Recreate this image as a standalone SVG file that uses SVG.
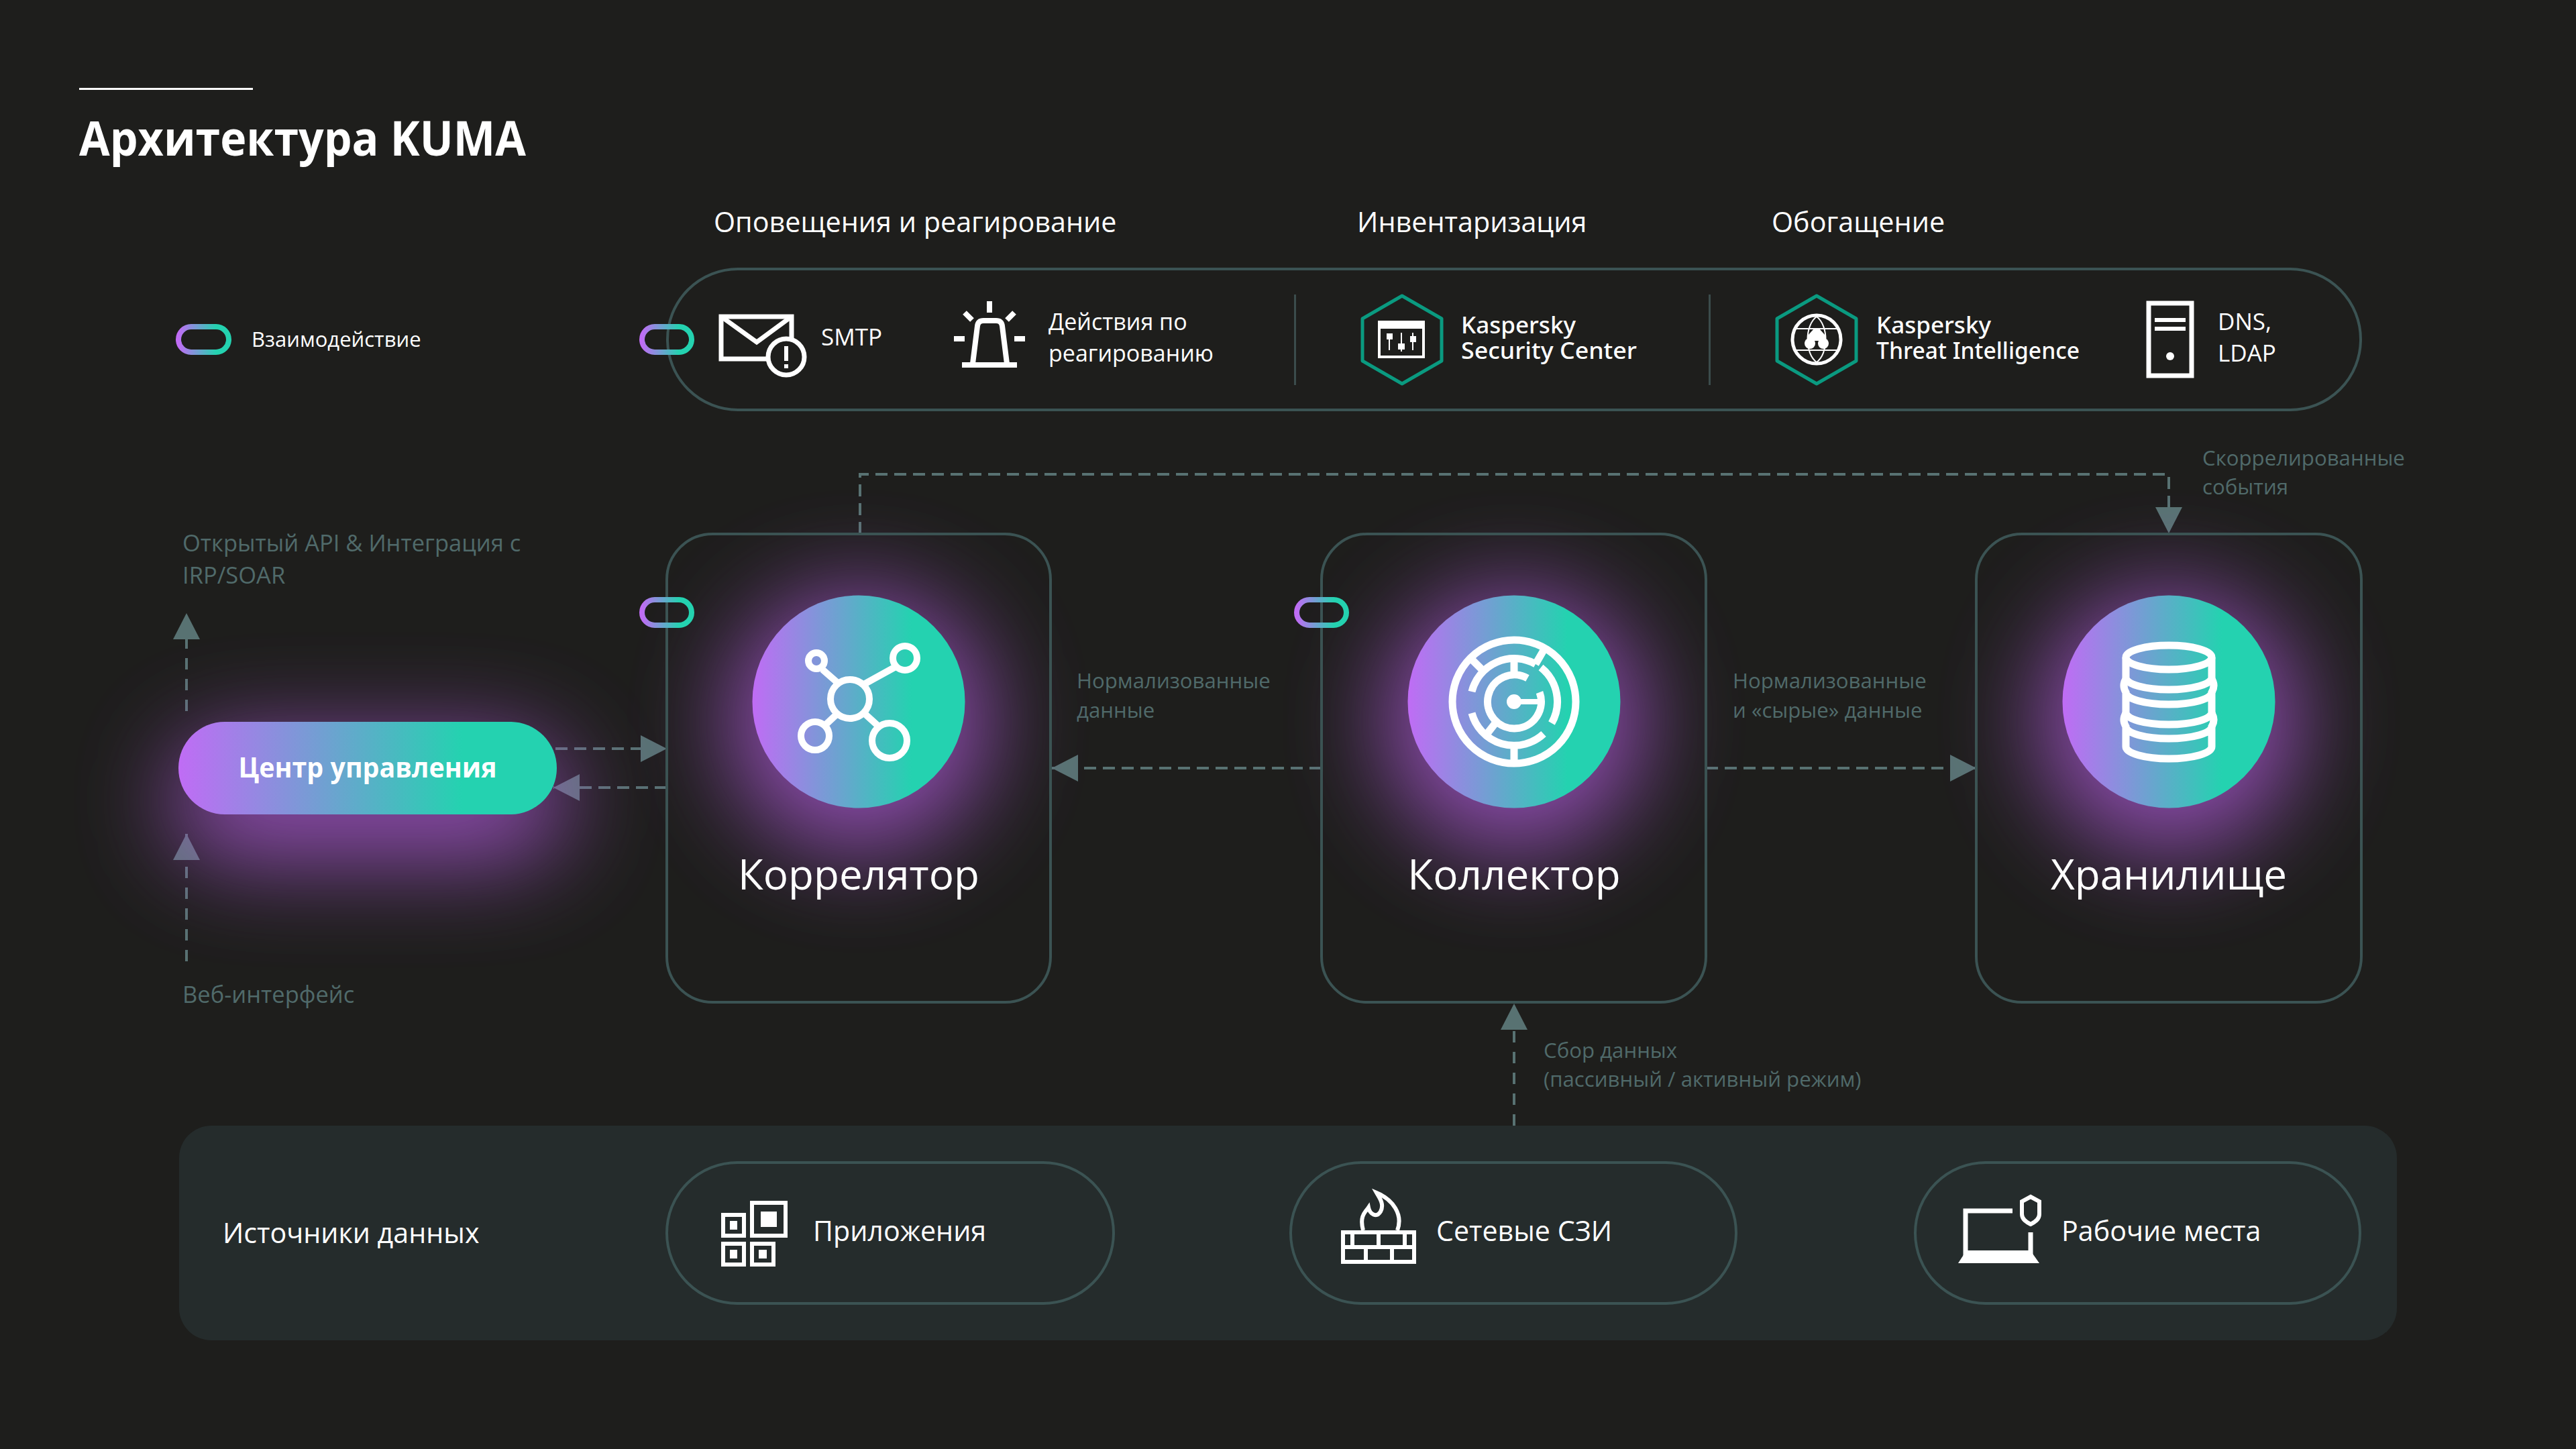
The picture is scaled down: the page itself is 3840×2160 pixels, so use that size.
<svg xmlns="http://www.w3.org/2000/svg" width="3840" height="2160" viewBox="0 0 3840 2160">
<defs>
<linearGradient id="g" x1="0" y1="0" x2="1" y2="0"><stop offset="0" stop-color="#c06cf5"/><stop offset="0.75" stop-color="#24d2b0"/><stop offset="1" stop-color="#24d2b0"/></linearGradient>
<filter id="glow" x="-100%" y="-200%" width="300%" height="500%"><feGaussianBlur stdDeviation="72"/></filter>
<marker id="arr" markerUnits="userSpaceOnUse" markerWidth="40" markerHeight="40" refX="39" refY="20" orient="auto"><path d="M0 0L39 20L0 40Z" fill="#587272"/></marker>
</defs>
<style>
text{font-family:"Open Sans","Noto Sans",sans-serif;fill:#fff}
.box{fill:none;stroke:#3b5353;stroke-width:4}
.dash{fill:none;stroke:#587272;stroke-width:4;stroke-dasharray:18 10}
.vd{fill:none;stroke:#587272;stroke-width:4;stroke-dasharray:17 14}
.lbl{font-size:31.200px;fill:#506a6a}
.lbl2{font-size:34.500px;fill:#506a6a}
.t36{font-size:35px}
.t34{font-size:34px}
.ks{font-size:35px;font-family:"Noto Sans",sans-serif;font-weight:500}
.grp{font-size:41.300px}
.nt{font-size:62px;text-anchor:middle}
.src{font-size:41.200px}
.ic{fill:none;stroke:#fff;stroke-width:7}
.chip{fill:none;stroke:url(#g);stroke-width:8}
.glowp{fill:#b45ce0;opacity:.74;filter:url(#glow)}
</style>
<rect width="3840" height="2160" fill="#1e1e1c"/>
<rect x="118" y="131" width="259" height="3" fill="#fff"/>
<text x="118" y="232" font-size="71" font-weight="700" textLength="666" lengthAdjust="spacingAndGlyphs">Архитектура KUMA</text>

<g id="legend"><rect class="chip" x="266" y="487" width="75" height="38" rx="19"/><text x="375" y="517" font-size="31">Взаимодействие</text></g>

<g id="top-panel">
<rect class="box" x="995" y="401" width="2524" height="210" rx="105"/>
<rect x="1929" y="439" width="3" height="135" fill="#3b4c4c"/>
<rect x="2547" y="439" width="3" height="135" fill="#3b4c4c"/>
<rect class="chip" x="957" y="487" width="74" height="38" rx="19"/>
<text class="grp" x="1064" y="346">Оповещения и реагирование</text>
<text class="grp" x="2023" y="346">Инвентаризация</text>
<text class="grp" x="2641" y="346">Обогащение</text>
</g>
<g id="smtp"><rect class="ic" x="1075" y="472" width="105" height="63"/><path class="ic" d="M1078 474L1128 510L1177 474"/><circle cx="1172" cy="532" r="27" fill="#1e1e1c" stroke="#fff" stroke-width="7"/><path d="M1172 516V538M1172 543V549" stroke="#fff" stroke-width="6" fill="none"/><text class="t36" x="1224" y="515">SMTP</text></g>
<g id="response"><path d="M1434 544H1516M1450 542L1457 486Q1458 478 1466 478H1485Q1493 478 1494 486L1501 542" fill="none" stroke="#fff" stroke-width="8"/><path d="M1475 449V466M1438 466L1449 477M1512 466L1501 477M1422 505H1438M1512 505H1528" stroke="#fff" stroke-width="8" fill="none"/><text class="t34" x="1563" y="492">Действия по</text><text class="t34" x="1563" y="539">реагированию</text></g>
<g id="ksc"><path d="M2090 441L2149 475V538L2090 572L2031 538V475Z" fill="none" stroke="#0a9a80" stroke-width="5" stroke-linejoin="round"/><rect x="2056" y="480" width="66" height="52" fill="none" stroke="#fff" stroke-width="4"/><rect x="2054" y="478" width="70" height="12" fill="#fff"/><path d="M2071 498V522M2089 496V524M2106 496V522" stroke="#fff" stroke-width="2"/><rect x="2067" y="497" width="9" height="9" fill="#fff"/><rect x="2084" y="512" width="10" height="9" fill="#fff"/><rect x="2102" y="501" width="9" height="9" fill="#fff"/><text class="ks"><tspan x="2178" y="497" textLength="171" lengthAdjust="spacingAndGlyphs">Kaspersky</tspan><tspan x="2178" y="535" textLength="262" lengthAdjust="spacingAndGlyphs">Security Center</tspan></text></g>
<g id="kti"><path d="M2708 441L2767 475V538L2708 572L2649 538V475Z" fill="none" stroke="#0a9a80" stroke-width="5" stroke-linejoin="round"/><circle cx="2708" cy="506" r="36" fill="none" stroke="#fff" stroke-width="5"/><path d="M2676 490H2740M2676 522H2740M2708 472C2690 485 2690 527 2708 540C2726 527 2726 485 2708 472" fill="none" stroke="#fff" stroke-width="2"/><path d="M2695 500L2704 490H2712L2721 500V508H2695Z" fill="#fff"/><circle cx="2698" cy="512" r="8" fill="#fff"/><circle cx="2718" cy="512" r="8" fill="#fff"/><text class="ks"><tspan x="2797" y="497" textLength="171" lengthAdjust="spacingAndGlyphs">Kaspersky</tspan><tspan x="2797" y="535" textLength="303" lengthAdjust="spacingAndGlyphs">Threat Intelligence</tspan></text></g>
<g id="dns"><rect class="ic" x="3203" y="452" width="64" height="108" stroke-width="6"/><rect x="3212" y="474" width="46" height="6" fill="#fff"/><rect x="3212" y="487" width="46" height="6" fill="#fff"/><circle cx="3235" cy="531" r="6" fill="#fff"/><text class="t36" x="3306" y="492">DNS,</text><text class="t36" x="3306" y="539">LDAP</text></g>

<rect x="267" y="1678" width="3306" height="320" rx="48" fill="#252c2c"/>

<g id="connectors">
<path class="dash" d="M1282 796V707H3233V795" marker-end="url(#arr)"/>
<path class="vd" d="M278 1060V914" marker-end="url(#arr)"/>
<path class="vd" d="M278 1433V1243" marker-end="url(#arr)"/>
<path class="dash" d="M828 1116H994" marker-end="url(#arr)"/>
<path class="dash" d="M994 1174H825" marker-end="url(#arr)"/>
<path class="dash" d="M1970 1145H1568" marker-end="url(#arr)"/>
<path class="dash" d="M2543 1145H2946" marker-end="url(#arr)"/>
<path class="vd" d="M2257 1678V1496" marker-end="url(#arr)"/>
</g>

<text class="lbl2" x="272" y="822">Открытый API &amp; Интеграция с</text><text class="lbl2" x="272" y="870">IRP/SOAR</text>
<text class="lbl2" x="272" y="1495">Веб-интерфейс</text>
<text class="lbl" x="1605" y="1026">Нормализованные</text><text class="lbl" x="1605" y="1070">данные</text>
<text class="lbl" x="2583" y="1026">Нормализованные</text><text class="lbl" x="2583" y="1070">и «сырые» данные</text>
<text class="lbl" x="3283" y="694">Скоррелированные</text><text class="lbl" x="3283" y="737">события</text>
<text class="lbl" x="2301" y="1577">Сбор данных</text><text class="lbl" x="2301" y="1620">(пассивный / активный режим)</text>

<g id="control-center"><rect class="glowp" x="255" y="1100" width="590" height="185" rx="90"/><rect x="266" y="1076" width="564" height="138" rx="69" fill="url(#g)"/><text x="548" y="1159" font-size="42" font-weight="700" text-anchor="middle" textLength="385" lengthAdjust="spacingAndGlyphs">Центр управления</text></g>

<g id="correlator"><circle class="glowp" cx="1280" cy="1075" r="195"/><rect class="box" x="994" y="796" width="572" height="698" rx="68"/><rect class="chip" x="957" y="894" width="74" height="38" rx="19"/><circle cx="1280" cy="1046" r="158.500" fill="url(#g)"/>
<g fill="none" stroke="#fff" stroke-width="10"><circle cx="1267" cy="1042" r="29"/><circle cx="1217" cy="985" r="12"/><circle cx="1349" cy="981" r="18"/><circle cx="1215" cy="1097" r="21"/><circle cx="1326" cy="1104" r="26"/><path d="M1226 998L1250 1019M1288 1020L1335 994M1247 1065L1231 1080M1288 1063L1310 1083"/></g>
<text class="nt" x="1280" y="1326">Коррелятор</text></g>

<g id="collector"><circle class="glowp" cx="2257" cy="1075" r="195"/><rect class="box" x="1970" y="796" width="573" height="698" rx="68"/><rect class="chip" x="1933" y="894" width="74" height="38" rx="19"/><circle cx="2257" cy="1046" r="158.500" fill="url(#g)"/>
<g fill="none" stroke="#fff" stroke-width="11" transform="translate(2257 1046)"><circle r="92"/>
<path d="M-63 -15A65 65 0 0 1 32 -56"/><path d="M40 -51A65 65 0 0 1 56 32"/><path d="M-63 17A65 65 0 0 0 44 48"/>
<path d="M32 -56L46 -80M-46 -46L-65 -65M0 65V92M0 -65V-38M-42 50L-28 32"/>
<path d="M20 -35A40 40 0 1 0 38 -14"/><path d="M0 0H40" stroke-width="8"/><circle r="6" fill="#fff" stroke-width="10"/></g>
<text class="nt" x="2257" y="1326">Коллектор</text></g>

<g id="storage"><circle class="glowp" cx="3233" cy="1075" r="195"/><rect class="box" x="2946" y="796" width="574" height="698" rx="68"/><circle cx="3233" cy="1046" r="158.500" fill="url(#g)"/>
<g fill="none" stroke="#fff" stroke-width="11"><ellipse cx="3233" cy="980" rx="64" ry="18"/><path d="M3169 980V1010A64 18 0 0 0 3297 1010V980"/><path d="M3169 1012Q3163 1022 3169 1032V1062A64 18 0 0 0 3297 1062V1032Q3303 1022 3297 1012M3169 1032A64 18 0 0 0 3297 1032"/><path d="M3169 1063Q3163 1073 3169 1083V1113A64 18 0 0 0 3297 1113V1083Q3303 1073 3297 1063M3169 1083A64 18 0 0 0 3297 1083"/></g>
<text class="nt" x="3233" y="1326">Хранилище</text></g>

<g id="sources"><text class="src" x="332" y="1853">Источники данных</text></g>
<g id="apps"><rect class="box" x="994" y="1733" width="666" height="210" rx="105"/>
<g fill="none" stroke="#fff" stroke-width="6"><rect x="1078" y="1811" width="31" height="31"/><rect x="1121" y="1793" width="50" height="49"/><rect x="1078" y="1854" width="31" height="31"/><rect x="1121" y="1854" width="32" height="31"/></g>
<g fill="#fff"><rect x="1088" y="1820" width="11" height="13"/><rect x="1134" y="1806" width="24" height="23"/><rect x="1088" y="1863" width="11" height="13"/><rect x="1131" y="1863" width="12" height="13"/></g>
<text class="src" x="1212" y="1850">Приложения</text></g>
<g id="firewall"><rect class="box" x="1924" y="1733" width="664" height="210" rx="105"/>
<g fill="none" stroke="#fff" stroke-width="6"><rect x="2002" y="1837" width="106" height="44"/><path d="M2002 1859H2108M2016 1837V1859M2055 1837V1859M2094 1837V1859M2036 1859V1881M2075 1859V1881"/><path d="M2032 1834C2026 1812 2036 1806 2040 1800C2042 1810 2052 1816 2058 1806C2064 1795 2056 1785 2052 1778C2076 1788 2092 1810 2083 1834"/></g>
<text class="src" x="2141" y="1850">Сетевые СЗИ</text></g>
<g id="workstations"><rect class="box" x="2855" y="1733" width="663" height="210" rx="105"/>
<path d="M2930 1875V1805H3000M3027 1837V1875" fill="none" stroke="#fff" stroke-width="7"/><rect x="2930" y="1864" width="100" height="9" fill="#fff"/><path d="M2930 1866L2919 1883H3040L3028 1866Z" fill="#fff"/><path d="M3027 1784L3040 1791V1810C3040 1818 3033 1822 3027 1825C3021 1822 3014 1818 3014 1810V1791Z" fill="none" stroke="#fff" stroke-width="6"/>
<text class="src" x="3073" y="1850">Рабочие места</text></g>
</svg>
